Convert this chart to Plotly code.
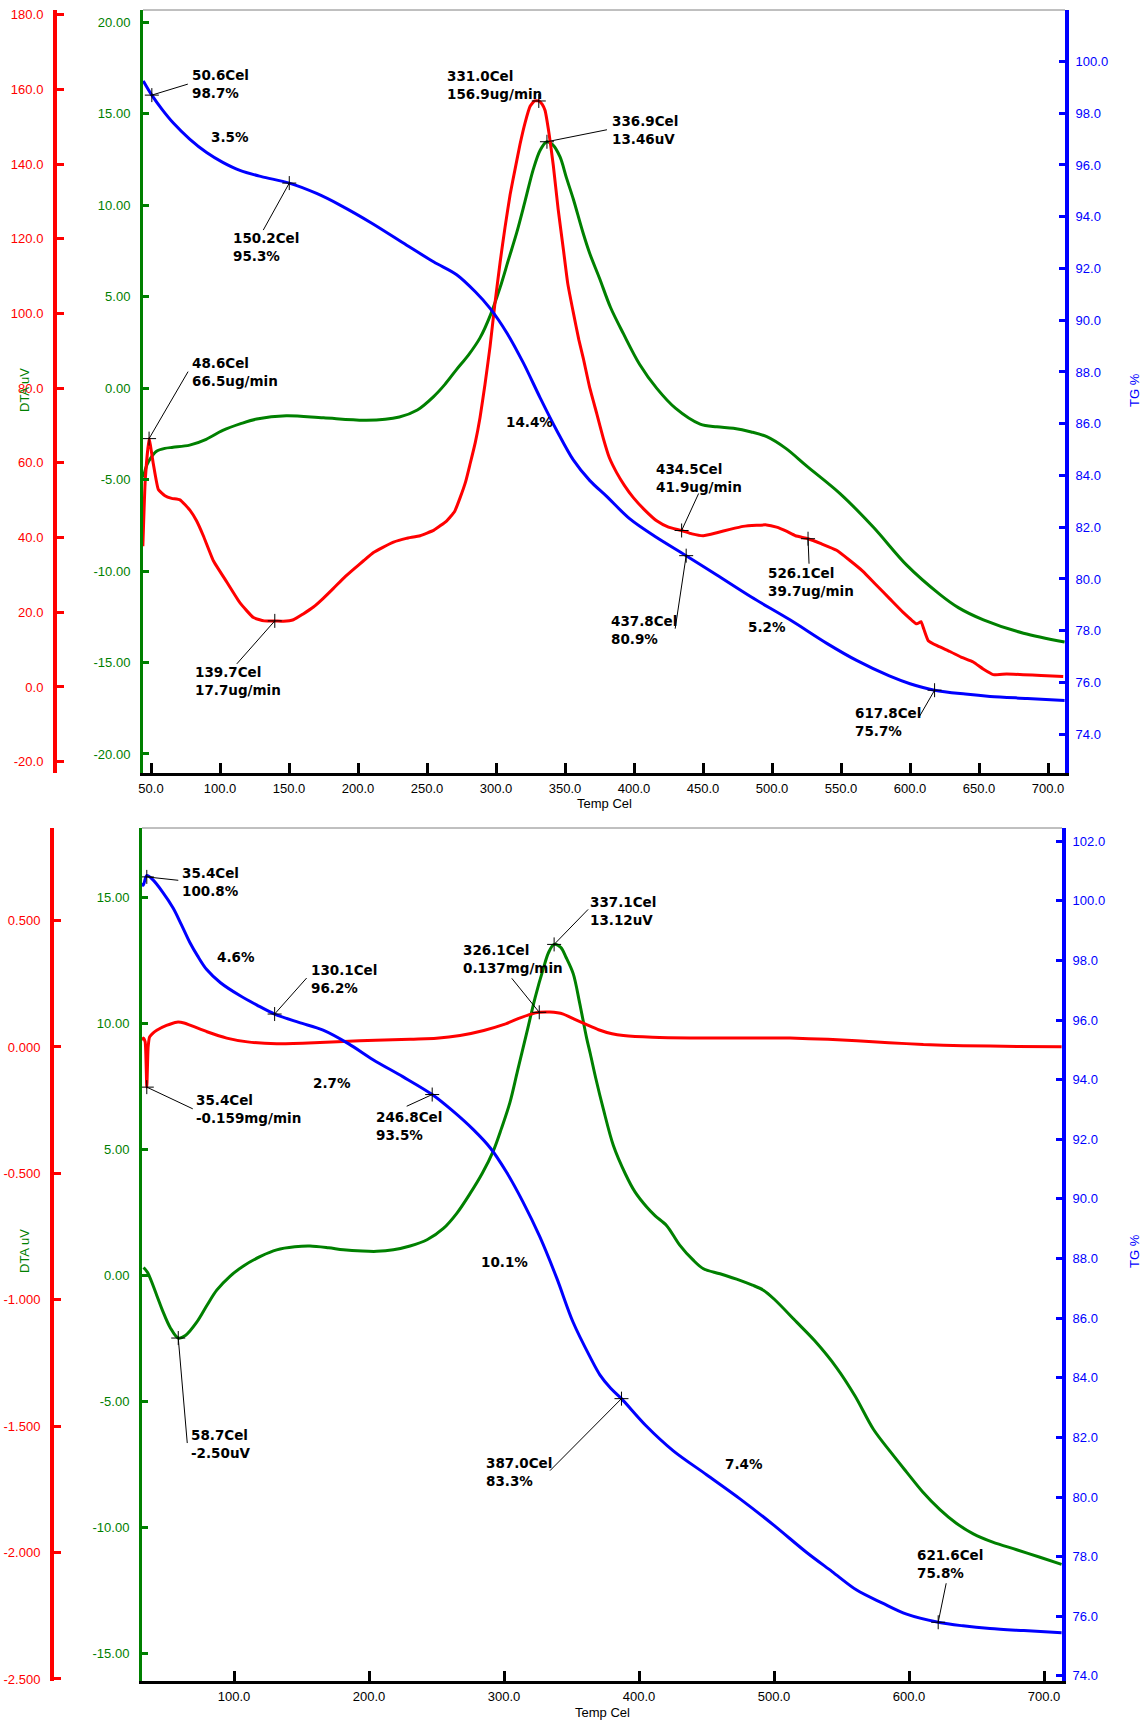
import plotly.graph_objects as go

W, H = 1146, 1721

# ---------------- TOP PANEL DATA ----------------
top_tg_T = [44.4, 50.6, 58, 66.2, 78, 90.3, 102, 114.4, 130, 150.2, 170, 187, 210, 235.3, 255, 271.5, 285,
            295.7, 308, 319.8, 332, 344, 356, 368, 380, 397, 415, 437.8, 460, 485, 513, 540, 561.3, 585,
            600, 617.8, 640, 658, 685, 712]
top_tg = [99.25, 98.7, 98.15, 97.62, 97.0, 96.48, 96.1, 95.79, 95.55, 95.3, 94.9, 94.45, 93.75, 92.9, 92.25,
          91.76, 91.1, 90.46, 89.5, 88.35, 87.0, 85.74, 84.6, 83.8, 83.2, 82.32, 81.65, 80.9, 80.15, 79.3,
          78.42, 77.5, 76.85, 76.25, 75.95, 75.7, 75.55, 75.46, 75.38, 75.3]

top_dta_T = [44.4, 47, 50, 54, 60, 66, 78, 90, 102, 115, 126.6, 148, 175, 206, 230, 243, 254.6, 263, 271.5,
             280, 288.4, 296, 303, 309, 315, 321, 327, 332, 336.9, 341, 346.4, 351, 356, 363, 368, 375, 383,
             392.3, 404, 416.5, 430, 447.9, 460, 472, 485, 496.2, 510, 525.2, 549.3, 573.5, 597.6, 621.8,
             635, 653.2, 682.2, 712]
top_dta = [-4.9, -4.2, -3.8, -3.46, -3.3, -3.24, -3.12, -2.8, -2.32, -1.95, -1.69, -1.51, -1.63, -1.76, -1.58,
           -1.2, -0.48, 0.2, 1.02, 1.8, 2.74, 4.0, 5.5, 7.0, 8.49, 10.2, 11.95, 13.0, 13.46, 13.3, 12.63, 11.5,
           10.33, 8.5, 7.34, 6.0, 4.4, 2.97, 1.3, -0.02, -1.1, -1.97, -2.12, -2.2, -2.4, -2.66, -3.3, -4.27,
           -5.77, -7.61, -9.68, -11.29, -12.0, -12.67, -13.4, -13.88]

top_dtg_T = [44.1, 45.8, 48.6, 51.7, 55.3, 60.1, 65, 71, 78.3, 83, 87.9, 95.2, 104.9, 114.5, 124.2, 132, 139.7,
             146, 153.2, 160, 167.7, 175, 182.2, 190, 196.7, 204, 211.2, 218, 225.7, 235, 245, 255, 264.3,
             270, 274, 278, 281.2, 285, 288.4, 292, 295.7, 299, 303, 306.5, 310.2, 314, 317.4, 321, 324.7,
             328, 331, 333.5, 335.5, 338.5, 341.5, 345, 348.8, 352, 356, 360, 363.3, 368, 373, 377.8, 382,
             387.4, 393, 399.5, 408, 416.4, 425, 434.5, 442, 450.2, 460, 469.5, 479, 488.8, 496, 503.3, 510,
             517, 526.1, 536, 546.8, 556, 566.1, 575, 585.4, 595, 604.8, 608, 610, 613.2, 620, 628.9, 637,
             645.8, 653, 660.3, 670, 682, 695, 711]
top_dtg = [37.7, 55.2, 66.5, 59.7, 52.9, 51.2, 50.5, 50.1, 47.3, 44.5, 40.5, 33.8, 28.1, 22.5, 18.6, 17.7, 17.7,
           17.6, 18.0, 19.5, 21.4, 23.8, 26.4, 29.3, 31.5, 33.8, 36.0, 37.4, 38.8, 39.8, 40.5, 42.0, 44.5,
           47.0, 50.7, 55.0, 59.7, 65.5, 72.1, 81.0, 91.2, 102, 113.8, 123, 131.8, 139, 145.3, 151, 155.5,
           156.9, 156.9, 156.0, 154.4, 148, 139.7, 128, 117.2, 108, 100.3, 93, 87.9, 80.0, 73.2, 66.5, 61.5,
           57.4, 54, 50.7, 47.3, 44.5, 42.8, 41.9, 41.0, 40.5, 41.3, 42.2, 43.0, 43.3, 43.4, 42.8, 41.8,
           40.5, 39.7, 38.3, 36.6, 34.0, 30.9, 27.5, 23.6, 20.0, 16.9, 17.5, 15.5, 12.4, 11.0, 9.5, 8.0,
           6.7, 4.8, 3.3, 3.5, 3.3, 3.1, 2.8]

# ---------------- BOTTOM PANEL DATA ----------------
bot_tg_T = [31.6, 32.8, 35.4, 40, 47, 55, 61, 67.3, 73, 79.6, 90, 104.3, 117, 130.1, 148, 166, 185, 203, 225,
            246.8, 262, 277.1, 290, 301.8, 314, 326.4, 339, 351.1, 363.7, 371, 379, 387, 405, 425.4, 450,
            474.8, 500, 524.2, 543, 561.2, 580, 598.2, 621.6, 640, 660, 685, 713]
bot_tg = [100.59, 100.52, 100.85, 100.7, 100.3, 99.75, 99.2, 98.6, 98.15, 97.7, 97.25, 96.82, 96.5, 96.2,
          95.92, 95.66, 95.2, 94.67, 94.1, 93.5, 92.95, 92.33, 91.7, 90.9, 89.9, 88.74, 87.35, 85.87, 84.7,
          84.1, 83.65, 83.3, 82.4, 81.55, 80.75, 79.94, 79.05, 78.14, 77.5, 76.88, 76.45, 76.07, 75.8,
          75.68, 75.59, 75.52, 75.45]

bot_dta_T = [33, 36, 42.8, 47, 52.7, 58.7, 64, 72.4, 80, 87.2, 97, 107, 120, 131.6, 145, 156.3, 170, 181, 195,
             205.7, 218, 230.4, 243, 255.1, 265, 274.8, 284, 292.1, 298, 304.4, 310, 316.8, 323, 329.1, 333,
             337.1, 342, 346, 351.3, 356, 361.2, 364, 368, 373.5, 381, 390, 397, 405.7, 412, 420.5, 430, 440,
             447.7, 460, 474.8, 484, 492.1, 500, 516.8, 530, 546.4, 560, 573.6, 586, 598.2, 610, 622.9, 635,
             647.6, 662, 679.7, 697, 713]
bot_dta = [0.3, 0.1, -0.81, -1.4, -2.08, -2.5, -2.4, -1.87, -1.2, -0.6, -0.05, 0.36, 0.75, 1.0, 1.12, 1.15,
           1.08, 1.0, 0.95, 0.94, 1.0, 1.15, 1.4, 1.85, 2.45, 3.23, 4.05, 4.93, 5.8, 6.85, 8.1, 9.61, 11.0,
           12.16, 12.8, 13.12, 13.0, 12.6, 11.95, 10.8, 9.4, 8.76, 7.8, 6.6, 5.14, 4.0, 3.3, 2.7, 2.35, 1.96,
           1.2, 0.6, 0.25, 0.05, -0.21, -0.4, -0.6, -0.95, -1.87, -2.6, -3.68, -4.8, -6.12, -7.0, -7.82,
           -8.6, -9.31, -9.85, -10.27, -10.6, -10.9, -11.2, -11.48]

bot_dtg_T = [31.6, 33.0, 34.2, 35.4, 36.4, 37.5, 40, 42.8, 50, 57.6, 63, 69.9, 80, 94.6, 110, 131.6, 155, 181,
             205, 230.4, 250, 267.4, 285, 299.5, 312, 320, 326.1, 334, 343.9, 352, 361.2, 370, 380, 388.4,
             410, 437.8, 480, 511.9, 540, 561.2, 585, 610.6, 640, 680, 713]
bot_dtg = [0.028, 0.035, 0.02, -0.159, 0.0, 0.04, 0.055, 0.066, 0.085, 0.098, 0.095, 0.081, 0.06, 0.035,
           0.02, 0.013, 0.016, 0.022, 0.026, 0.03, 0.034, 0.045, 0.065, 0.088, 0.115, 0.13, 0.137, 0.138,
           0.13, 0.11, 0.088, 0.068, 0.052, 0.045, 0.038, 0.035, 0.035, 0.035, 0.03, 0.024, 0.017, 0.0095,
           0.005, 0.002, 0.001]

# ---------------- TICKS ----------------
top_xticks = [50, 100, 150, 200, 250, 300, 350, 400, 450, 500, 550, 600, 650, 700]
bot_xticks = [100, 200, 300, 400, 500, 600, 700]
top_dta_ticks = [-20, -15, -10, -5, 0, 5, 10, 15, 20]
bot_dta_ticks = [-15, -10, -5, 0, 5, 10, 15]
top_dtg_ticks = [-20, 0, 20, 40, 60, 80, 100, 120, 140, 160, 180]
bot_dtg_ticks = [-2.5, -2.0, -1.5, -1.0, -0.5, 0.0, 0.5]
top_tg_ticks = [74, 76, 78, 80, 82, 84, 86, 88, 90, 92, 94, 96, 98, 100]
bot_tg_ticks = [74, 76, 78, 80, 82, 84, 86, 88, 90, 92, 94, 96, 98, 100, 102]

# ---------------- LABELS ----------------
# text, temp, value, axis, text dx, text dy, leader dx, leader dy (pixels, dy downward)
top_labels = [
    ("50.6Cel<br>98.7%", 50.6, 98.7, "b", 38, -11, 36, -11),
    ("150.2Cel<br>95.3%", 150.2, 95.3, "b", -58, 64, -26, 47),
    ("48.6Cel<br>66.5ug/min", 48.6, 66.5, "r", 41, -67, 39, -67),
    ("139.7Cel<br>17.7ug/min", 139.7, 17.7, "r", -82, 60, -38, 43),
    ("331.0Cel<br>156.9ug/min", 331.0, 156.9, "r", -94, -16, None, None),
    ("336.9Cel<br>13.46uV", 336.9, 13.46, "g", 63, -12, 60, -12),
    ("434.5Cel<br>41.9ug/min", 434.5, 41.9, "r", -28, -52, 17, -37),
    ("526.1Cel<br>39.7ug/min", 526.1, 39.7, "r", -42, 43, 1, 25),
    ("437.8Cel<br>80.9%", 437.8, 80.9, "b", -77, 74, -11, 73),
    ("617.8Cel<br>75.7%", 617.8, 75.7, "b", -82, 32, -15, 26),
]
top_pct = [("3.5%", 107.2, 97.08), ("14.4%", 323.9, 86.07), ("5.2%", 496.2, 78.14)]

bot_labels = [
    ("35.4Cel<br>100.8%", 35.4, 100.8, "b", 33, 5, 31.5, 3.4),
    ("130.1Cel<br>96.2%", 130.1, 96.2, "b", 34, -35, 32, -36),
    ("35.4Cel<br>-0.159mg/min", 35.4, -0.159, "r", 47.5, 22, 46, 21.7),
    ("246.8Cel<br>93.5%", 246.8, 93.5, "b", -58, 31, -25.5, 11.7),
    ("326.1Cel<br>0.137mg/min", 326.1, 0.137, "r", -78, -53, -27.5, -34),
    ("337.1Cel<br>13.12uV", 337.1, 13.12, "g", 34, -33, 34, -35),
    ("58.7Cel<br>-2.50uV", 58.7, -2.50, "g", 11, 106, 9, 105),
    ("387.0Cel<br>83.3%", 387.0, 83.3, "b", -137, 73, -71.5, 72),
    ("621.6Cel<br>75.8%", 621.6, 75.8, "b", -23, -58, 8, -39),
]
bot_pct = [("4.6%", 101.7, 98.12), ("2.7%", 172.6, 93.9), ("10.1%", 300.5, 87.9), ("7.4%", 477.8, 81.11)]

RED, GREEN, BLUE = "#ff0000", "#008000", "#0000ff"
TICKFONT = "Arial, Liberation Sans, sans-serif"
LABFONT = "DejaVu Sans, Verdana, sans-serif"


def py(yp):
    return 1 - yp / H


fig = go.Figure()

panels = [
    dict(x="x", g="y", r="y2", b="y3",
         tg=(top_tg_T, top_tg), dta=(top_dta_T, top_dta), dtg=(top_dtg_T, top_dtg),
         labels=top_labels, pct=top_pct, rsmooth=0.4),
    dict(x="x2", g="y4", r="y5", b="y6",
         tg=(bot_tg_T, bot_tg), dta=(bot_dta_T, bot_dta), dtg=(bot_dtg_T, bot_dtg),
         labels=bot_labels, pct=bot_pct, rsmooth=0.5),
]

annotations = []
shapes = []

for p in panels:
    fig.add_trace(go.Scatter(x=p["dta"][0], y=p["dta"][1], xaxis=p["x"], yaxis=p["g"], mode="lines",
                             line=dict(color=GREEN, width=3, shape="spline", smoothing=0.9),
                             showlegend=False, hoverinfo="skip"))
    fig.add_trace(go.Scatter(x=p["dtg"][0], y=p["dtg"][1], xaxis=p["x"], yaxis=p["r"], mode="lines",
                             line=dict(color=RED, width=3, shape="spline", smoothing=p["rsmooth"]),
                             showlegend=False, hoverinfo="skip"))
    fig.add_trace(go.Scatter(x=p["tg"][0], y=p["tg"][1], xaxis=p["x"], yaxis=p["b"], mode="lines",
                             line=dict(color=BLUE, width=3, shape="spline", smoothing=0.9),
                             showlegend=False, hoverinfo="skip"))
    for (txt, t, v, ax, tdx, tdy, ldx, ldy) in p["labels"]:
        yref = p[ax]
        fig.add_trace(go.Scatter(x=[t], y=[v], xaxis=p["x"], yaxis=yref, mode="markers",
                                 marker=dict(symbol="cross-thin", size=10, line=dict(color="black", width=1)),
                                 showlegend=False, hoverinfo="skip"))
        annotations.append(dict(text=txt, x=t, y=v, xref=p["x"], yref=yref, showarrow=False,
                                xanchor="left", yanchor="middle", align="left", xshift=tdx, yshift=-tdy,
                                font=dict(family=LABFONT, size=13.5, color="black", weight="bold")))
        if ldx is not None:
            shapes.append(dict(type="line", xref=p["x"], yref=yref, xsizemode="pixel", ysizemode="pixel",
                               xanchor=t, yanchor=v, x0=0, y0=0, x1=ldx, y1=-ldy,
                               line=dict(color="black", width=1)))
    for (txt, t, v) in p["pct"]:
        annotations.append(dict(text=txt, x=t, y=v, xref=p["x"], yref=p["b"], showarrow=False,
                                xanchor="center", yanchor="middle",
                                font=dict(family=LABFONT, size=13.5, color="black", weight="bold")))


def yax(color, rng, ticks, fmt, dom=None, lw=3, tl=6, so=7, **kw):
    d = dict(range=rng, tickvals=ticks, ticktext=[fmt % v for v in ticks], ticks="inside", ticklen=tl,
             tickwidth=3, tickcolor=color, showline=True, linecolor=color, linewidth=lw, showgrid=False,
             zeroline=False, tickfont=dict(family=TICKFONT, size=13, color=color), automargin=False,
             ticklabelstandoff=so, fixedrange=True)
    if dom is not None:
        d["domain"] = dom
    d.update(kw)
    return d


def xax(dom, rng, ticks, anchor):
    return dict(domain=dom, range=rng, tickvals=ticks, ticktext=["%.1f" % v for v in ticks], ticks="inside",
                ticklen=10, tickwidth=3, tickcolor="black", showline=True, linecolor="black", linewidth=3,
                showgrid=False, zeroline=False, anchor=anchor, automargin=False, ticklabelstandoff=1,
                tickfont=dict(family=TICKFONT, size=13, color="black"))


top_dom = [py(773), py(10)]
bot_dom = [py(1681), py(828)]

fig.update_layout(
    width=W, height=H, margin=dict(l=0, r=0, t=0, b=0), template="none",
    paper_bgcolor="white", plot_bgcolor="rgba(0,0,0,0)", showlegend=False,
    xaxis=xax([143 / W, 1065 / W], [44.2, 712.3], top_xticks, "y"),
    xaxis2=xax([142 / W, 1062 / W], [31.85, 713.3], bot_xticks, "y4"),
    yaxis=yax(GREEN, [-21.04, 20.66], top_dta_ticks, "%.2f", dom=top_dom, anchor="x", side="left"),
    yaxis2=yax(RED, [-23.03, 181.26], top_dtg_ticks, "%.1f", lw=4, tl=7, overlaying="y", anchor="free",
               position=55 / W, side="left"),
    yaxis3=yax(BLUE, [72.50, 101.99], top_tg_ticks, "%.1f", lw=4, so=4, overlaying="y", anchor="x",
               side="right"),
    yaxis4=yax(GREEN, [-16.11, 17.74], bot_dta_ticks, "%.2f", dom=bot_dom, anchor="x2", side="left"),
    yaxis5=yax(RED, [-2.508, 0.866], bot_dtg_ticks, "%.3f", lw=4, tl=7, overlaying="y4", anchor="free",
               position=52 / W, side="left"),
    yaxis6=yax(BLUE, [73.83, 102.44], bot_tg_ticks, "%.1f", lw=4, so=4, overlaying="y4", anchor="x2",
               side="right"),
)

# top border lines
shapes.append(dict(type="line", xref="paper", yref="paper", x0=143 / W, x1=1065 / W, y0=py(10), y1=py(10),
                   line=dict(color="#808080", width=1)))
shapes.append(dict(type="line", xref="paper", yref="paper", x0=142 / W, x1=1062 / W, y0=py(828), y1=py(828),
                   line=dict(color="#808080", width=1)))

# axis titles
for yc in (390, 1251):
    annotations.append(dict(text="DTA uV", x=24 / W, y=py(yc), xref="paper", yref="paper", showarrow=False,
                            xanchor="center", yanchor="middle", textangle=-90,
                            font=dict(family=TICKFONT, size=13, color=GREEN)))
    annotations.append(dict(text="TG %", x=1134 / W, y=py(yc), xref="paper", yref="paper", showarrow=False,
                            xanchor="center", yanchor="middle", textangle=-90,
                            font=dict(family=TICKFONT, size=13, color=BLUE)))
annotations.append(dict(text="Temp Cel", x=604 / W, y=py(803), xref="paper", yref="paper", showarrow=False,
                        xanchor="center", yanchor="middle", font=dict(family=TICKFONT, size=13, color="black")))
annotations.append(dict(text="Temp Cel", x=602 / W, y=py(1712), xref="paper", yref="paper", showarrow=False,
                        xanchor="center", yanchor="middle", font=dict(family=TICKFONT, size=13, color="black")))

fig.update_layout(annotations=annotations, shapes=shapes)
fig.write_html("out.html")
